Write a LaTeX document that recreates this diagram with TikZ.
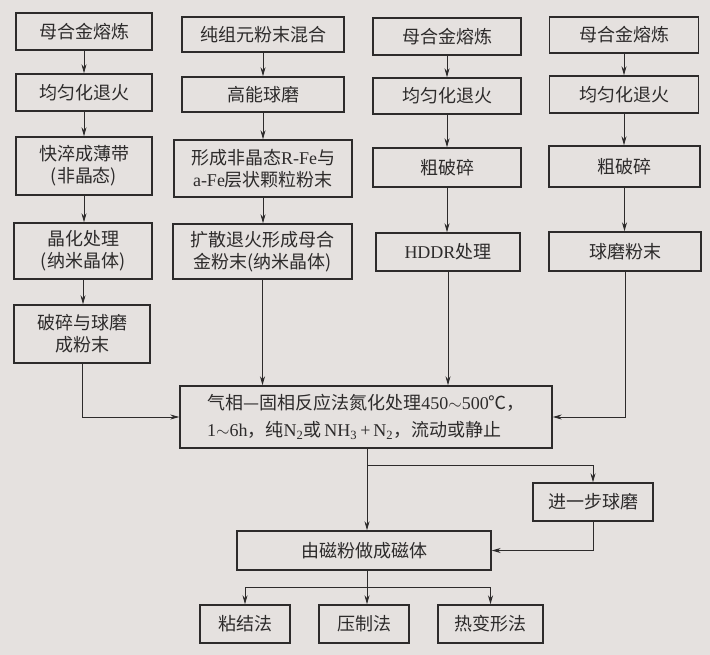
\documentclass[tikz,border=0pt]{standalone}
\usepackage{fontspec}
\setmainfont{Noto Sans CJK SC}
\newfontfamily\lat{Liberation Serif}
\usetikzlibrary{arrows.meta,calc}
\definecolor{bg}{RGB}{229,225,223}
\definecolor{ink}{RGB}{45,43,43}
\begin{document}
\begin{tikzpicture}[x=1pt,y=-1pt,
  box/.style={draw=ink,line width=1.4pt,rectangle,inner sep=0pt,align=center,text=ink,
    font=\fontsize{18}{22}\selectfont},
  arr/.style={draw=ink,line width=0.9pt,-{Stealth[length=9pt,width=5pt]}},
  ln/.style={draw=ink,line width=0.9pt}]
\fill[bg] (0,0) rectangle (710,655);
\useasboundingbox (0,0) rectangle (710,655);
% column 1
\node[box,minimum width=136,minimum height=37] (a1) at (84,31.5) {母合金熔炼};
\node[box,minimum width=136,minimum height=37] (a2) at (84,92.5) {均匀化退火};
\node[box,minimum width=136,minimum height=58] (a3) at (84,166) {快淬成薄带\\(非晶态)};
\node[box,minimum width=138,minimum height=56] (a4) at (83,251) {晶化处理\\(纳米晶体)};
\node[box,minimum width=136,minimum height=58] (a5) at (82,334) {破碎与球磨\\成粉末};
% column 2
\node[box,minimum width=162,minimum height=35] (b1) at (263,34.5) {纯组元粉末混合};
\node[box,minimum width=162,minimum height=35] (b2) at (263,94.5) {高能球磨};
\node[box,minimum width=178,minimum height=57] (b3) at (263,168.5) {形成非晶态{\lat R-Fe}与\\{\lat a-Fe}层状颗粒粉末};
\node[box,minimum width=179,minimum height=55] (b4) at (262.5,251.5) {扩散退火形成母合\\金粉末(纳米晶体)};
% column 3
\node[box,minimum width=148,minimum height=37] (c1) at (447,36.5) {母合金熔炼};
\node[box,minimum width=148,minimum height=36] (c2) at (447,96) {均匀化退火};
\node[box,minimum width=148,minimum height=39] (c3) at (447,167.5) {粗破碎};
\node[box,minimum width=144,minimum height=38] (c4) at (448,252) {{\lat HDDR}处理};
% column 4
\node[box,minimum width=149,minimum height=36] (d1) at (624,35) {母合金熔炼};
\node[box,minimum width=149,minimum height=37] (d2) at (624,94.5) {均匀化退火};
\node[box,minimum width=151,minimum height=41] (d3) at (624.5,166.5) {粗破碎};
\node[box,minimum width=152,minimum height=39] (d4) at (625,251.5) {球磨粉末};
% main
\node[box,minimum width=372,minimum height=62,align=left,font=\fontsize{18}{27}\selectfont] (m) at (366,417)
  {气相—固相反应法氮化处理{\lat 450}$\sim${\lat 500}℃，\\{\lat 1}$\sim${\lat 6h}，纯{\lat N\textsubscript{2}}或{\lat\,NH\textsubscript{3}\,+\,N\textsubscript{2}}，流动或静止};
\node[box,minimum width=120,minimum height=38] (e) at (593,502) {进一步球磨};
\node[box,minimum width=254,minimum height=39] (f) at (364,550.5) {由磁粉做成磁体};
\node[box,minimum width=90,minimum height=38] (g1) at (245,624) {粘结法};
\node[box,minimum width=90,minimum height=38] (g2) at (364,624) {压制法};
\node[box,minimum width=105,minimum height=38] (g3) at (490.5,624) {热变形法};
% connectors
\foreach \p/\q in {a1/a2,a2/a3,a3/a4,a4/a5,b1/b2,b2/b3,b3/b4,c1/c2,c2/c3,c3/c4,d1/d2,d2/d3,d3/d4}
  \draw[arr] (\p.south) -- (\p.south |- \q.north);
\draw[arr] (a5.south) |- (m.west);
\draw[arr] (b4.south) -- (b4.south |- m.north);
\draw[arr] (c4.south) -- (c4.south |- m.north);
\draw[arr] (d4.south) |- (m.east);
\coordinate (ms) at (367,448);
\coordinate (br) at (367,465);
\draw[arr] (ms) -- (ms |- f.north);
\draw[arr] (br) -| (e.north);
\draw[arr] (e.south) |- (f.east);
\coordinate (fs) at (367,570);
\coordinate (sp) at (367,587);
\draw[arr] (fs) -- (fs |- g2.north);
\draw[arr] (sp) -| (g1.north);
\draw[arr] (sp) -| (g3.north);
\end{tikzpicture}
\end{document}
